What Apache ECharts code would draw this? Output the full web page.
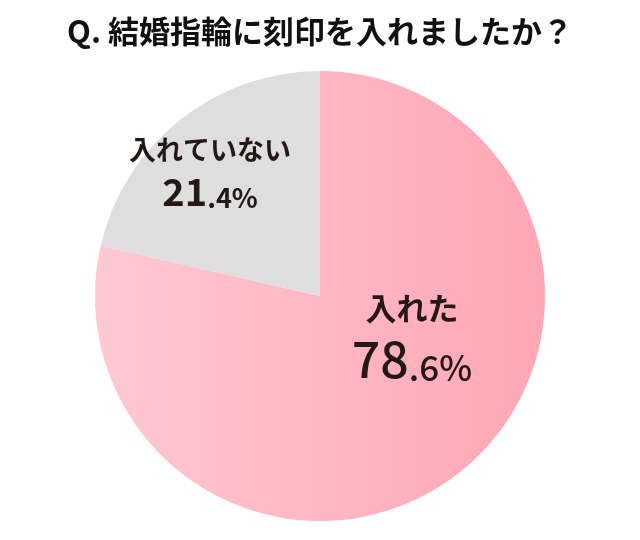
<!DOCTYPE html>
<html>
<head>
<meta charset="utf-8">
<script src="https://cdn.jsdelivr.net/npm/echarts@6/dist/echarts.min.js"></script>
<style>html,body{margin:0;padding:0;background:#fff}#c{width:640px;height:540px}</style>
</head>
<body>
<div id="c"></div>
<script>
const titleText = 'Q. 結婚指輪に刻印を入れましたか？';
const categories = ['入れた', '入れていない'];
const values = [78.6, 21.4];

const chart = echarts.init(document.getElementById('c'));
const FONT = '"Noto Sans CJK JP", "Noto Sans", sans-serif';

function splitPct(v) {
  const s = v.toFixed(1);
  const [a, b] = s.split('.');
  return [a, '.' + b + '%'];
}

const styles = [
  {
    color: {
      type: 'linear', x: 0, y: 0, x2: 1, y2: 0,
      colorStops: [{offset: 0, color: '#ffc9d2'}, {offset: 1, color: '#ffa6b4'}]
    },
    offset: [20, -50],
    rich: {
      name: {fontSize: 31, fontWeight: 'bold', color: '#231815', fontFamily: FONT, lineHeight: 46},
      big: {fontSize: 50, fontWeight: 500, color: '#231815', fontFamily: FONT, lineHeight: 56},
      small: {fontSize: 35, fontWeight: 500, color: '#231815', fontFamily: FONT, lineHeight: 56, verticalAlign: 'bottom', padding: [0,0,2,0]}
    }
  },
  {
    color: '#dedede',
    offset: [-38, -34],
    rich: {
      name: {fontSize: 27, fontWeight: 'bold', color: '#231815', fontFamily: FONT, lineHeight: 40},
      big: {fontSize: 38, fontWeight: 'bold', color: '#231815', fontFamily: FONT, lineHeight: 44},
      small: {fontSize: 27, fontWeight: 'bold', color: '#231815', fontFamily: FONT, lineHeight: 44, verticalAlign: 'bottom', padding: [0,0,2,0]}
    }
  }
];

const data = categories.map((name, i) => {
  const [a, b] = splitPct(values[i]);
  return {
    name: name,
    value: values[i],
    itemStyle: {color: styles[i].color},
    label: {
      formatter: '{name|' + name + '}\n{big|' + a + '}{small|' + b + '}',
      offset: styles[i].offset,
      rich: styles[i].rich
    }
  };
});

chart.setOption({
  animation: false,
  title: {
    text: titleText,
    left: 'center',
    top: 11,
    textStyle: {fontSize: 31, fontWeight: 'bold', color: '#111', fontFamily: FONT}
  },
  series: [{
    type: 'pie',
    center: [320, 296],
    radius: [0, 225],
    startAngle: 90,
    clockwise: true,
    silent: true,
    label: {show: true, position: 'inside', align: 'center'},
    labelLine: {show: false},
    itemStyle: {borderWidth: 0},
    emphasis: {disabled: true},
    data: data
  }]
});
</script>
</body>
</html>
